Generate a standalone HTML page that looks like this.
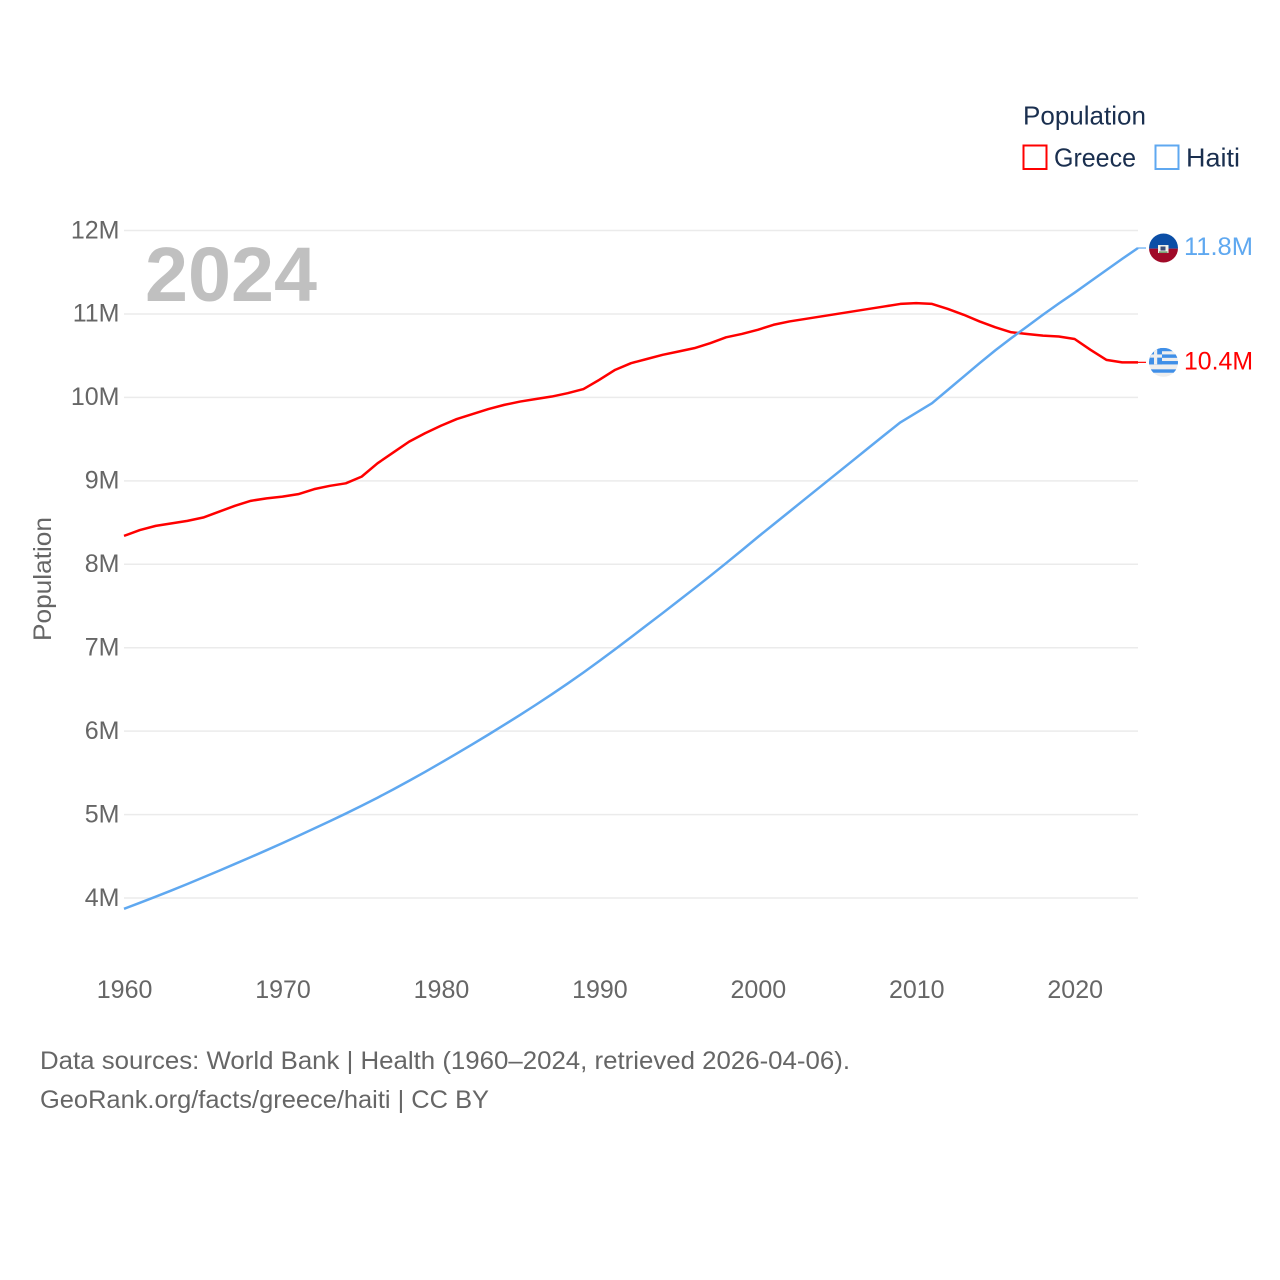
<!DOCTYPE html>
<html lang="en">
<head>
<meta charset="utf-8">
<title>Population: Greece and Haiti</title>
<style>
html,body{margin:0;padding:0;background:#fff;}
svg{display:block;font-family:"Liberation Sans",Arial,sans-serif;}
</style>
</head>
<body>
<svg id="chart" xmlns="http://www.w3.org/2000/svg" width="1280" height="1280" viewBox="0 0 1280 1280">
  <rect x="0" y="0" width="1280" height="1280" fill="#ffffff"/>
  <g id="grid"></g>
  <g id="yticks"></g>
  <g id="xticks"></g>
  <text x="145" y="301" font-size="77" font-weight="700" fill="#c0c0c0" textLength="172" lengthAdjust="spacingAndGlyphs">2024</text>
  <text transform="translate(51 641) rotate(-90)" font-size="25" fill="#666666" textLength="124" lengthAdjust="spacingAndGlyphs">Population</text>
  <g id="series"></g>
  <g id="ends"></g>

  <g>
    <text x="1023" y="124.5" font-size="26" fill="#1a2f4f" textLength="123" lengthAdjust="spacingAndGlyphs">Population</text>
    <g>
      <rect x="1023.5" y="145.5" width="23" height="23.5" fill="#ffffff" stroke="#ff0000" stroke-width="2"/>
      <text x="1054" y="166.5" font-size="26" fill="#1a2f4f" textLength="82" lengthAdjust="spacingAndGlyphs">Greece</text>
    </g>
    <g>
      <rect x="1155.5" y="145.5" width="23" height="23.5" fill="#ffffff" stroke="#5fa8f0" stroke-width="2"/>
      <text x="1186" y="166.5" font-size="26" fill="#1a2f4f" textLength="54" lengthAdjust="spacingAndGlyphs">Haiti</text>
    </g>
  </g>

  <g>
    <text x="40" y="1069" font-size="25" fill="#666666" textLength="810" lengthAdjust="spacingAndGlyphs">Data sources: World Bank | Health (1960–2024, retrieved 2026-04-06).</text>
    <text x="40" y="1108" font-size="25" fill="#666666" textLength="449" lengthAdjust="spacingAndGlyphs">GeoRank.org/facts/greece/haiti | CC BY</text>
  </g>
</svg>
<script>
const years = [1960,1961,1962,1963,1964,1965,1966,1967,1968,1969,1970,1971,1972,1973,1974,1975,1976,1977,1978,1979,1980,1981,1982,1983,1984,1985,1986,1987,1988,1989,1990,1991,1992,1993,1994,1995,1996,1997,1998,1999,2000,2001,2002,2003,2004,2005,2006,2007,2008,2009,2010,2011,2012,2013,2014,2015,2016,2017,2018,2019,2020,2021,2022,2023,2024];
const greeceValues = [8.34,8.41,8.46,8.49,8.52,8.56,8.63,8.70,8.76,8.79,8.81,8.84,8.90,8.94,8.97,9.05,9.21,9.34,9.47,9.57,9.66,9.74,9.80,9.86,9.91,9.95,9.98,10.01,10.05,10.10,10.21,10.33,10.41,10.46,10.51,10.55,10.59,10.65,10.72,10.76,10.81,10.87,10.91,10.94,10.97,11.00,11.03,11.06,11.09,11.12,11.13,11.12,11.06,10.99,10.91,10.84,10.78,10.76,10.74,10.73,10.70,10.57,10.45,10.42,10.42];
const haitiValues = [3.870,3.942,4.016,4.091,4.168,4.247,4.327,4.408,4.490,4.573,4.658,4.745,4.833,4.922,5.012,5.105,5.202,5.302,5.405,5.511,5.620,5.731,5.844,5.958,6.075,6.194,6.316,6.441,6.570,6.703,6.840,6.982,7.125,7.270,7.415,7.562,7.710,7.860,8.013,8.168,8.325,8.478,8.631,8.784,8.937,9.090,9.243,9.396,9.549,9.700,9.815,9.930,10.090,10.250,10.410,10.565,10.710,10.850,10.990,11.125,11.255,11.390,11.525,11.660,11.790];
const yTickValues = [4,5,6,7,8,9,10,11,12];
const xTickValues = [1960,1970,1980,1990,2000,2010,2020];

const NS = 'http://www.w3.org/2000/svg';
function xScale(year){ return 124 + (year - 1960) * (1138 - 124) / 64; }
function yScale(v){ return 898 - (v - 4) * (898 - 230.5) / 8; }
function make(tag, attrs, parent){
  const el = document.createElementNS(NS, tag);
  for (const k in attrs) el.setAttribute(k, attrs[k]);
  parent.appendChild(el);
  return el;
}

const grid = document.getElementById('grid');
const yticks = document.getElementById('yticks');
yTickValues.forEach(function(v){
  const line = make('line', {x1:124, x2:1138, y1:yScale(v), y2:yScale(v), stroke:'#ebebeb', 'stroke-width':1.5}, grid);
  
  
  const t = make('text', {x:119.5, y:yScale(v)+7.8, 'text-anchor':'end', 'font-size':25, fill:'#666666'}, yticks);
  
  
  t.textContent = v + 'M';
});

const xticks = document.getElementById('xticks');
xTickValues.forEach(function(year){
  const t = make('text', {x:xScale(year)+0.6, y:998, 'text-anchor':'middle', 'font-size':25, fill:'#666666'}, xticks);
  
  
  t.textContent = year;
});

const seriesGroup = document.getElementById('series');
function linePoints(vals){
  return vals.map(function(v, i){ return xScale(years[i]).toFixed(2) + ',' + yScale(v).toFixed(2); }).join(' ');
}
const greeceLine = make('polyline', {points:linePoints(greeceValues), fill:'none', stroke:'#ff0000', 'stroke-width':2.5, 'stroke-linejoin':'round'}, seriesGroup);


const haitiLine = make('polyline', {points:linePoints(haitiValues), fill:'none', stroke:'#5fa8f0', 'stroke-width':2.5, 'stroke-linejoin':'round'}, seriesGroup);



const ends = document.getElementById('ends');
const defs = make('defs', {}, ends);
const lastYear = years[years.length - 1];
const cx = 1163.5, r = 14.5;

/* Haiti end marker */
const hY = yScale(haitiValues[haitiValues.length - 1]);
const hClip = make('clipPath', {id:'clip-haiti'}, defs);
make('circle', {cx:cx, cy:hY, r:r}, hClip);
const hLead = make('line', {x1:xScale(lastYear), x2:1146, y1:hY, y2:hY, stroke:'#5fa8f0', 'stroke-width':1.2}, ends);


const hFlag = make('g', {'clip-path':'url(#clip-haiti)'}, ends);


make('rect', {x:cx-r, y:hY-r, width:2*r, height:r+0.6, fill:'#0b4ea6'}, hFlag);
make('rect', {x:cx-r, y:hY+0.6, width:2*r, height:r, fill:'#a00a28'}, hFlag);
make('rect', {x:cx-5.5, y:hY-3, width:10.5, height:8, fill:'#f2f2ea'}, hFlag);
make('rect', {x:cx-3, y:hY-1.5, width:5, height:4, fill:'#3f4f78'}, hFlag);
make('rect', {x:cx-4.5, y:hY+3.4, width:8.5, height:1.4, fill:'#5f8f5a'}, hFlag);
const hText = make('text', {x:1184, y:hY+7, 'font-size':25, fill:'#5fa8f0', textLength:69, lengthAdjust:'spacingAndGlyphs'}, ends);


hText.textContent = haitiValues[haitiValues.length - 1].toFixed(1) + 'M';

/* Greece end marker */
const gY = yScale(greeceValues[greeceValues.length - 1]);
const gClip = make('clipPath', {id:'clip-greece'}, defs);
make('circle', {cx:cx, cy:gY, r:r}, gClip);
const gLead = make('line', {x1:xScale(lastYear), x2:1146, y1:gY, y2:gY, stroke:'#ff0000', 'stroke-width':1.2}, ends);


const gFlag = make('g', {'clip-path':'url(#clip-greece)'}, ends);


make('rect', {x:cx-r, y:gY-r, width:2*r, height:2*r, fill:'#eeeeee'}, gFlag);
[0,6.6,13.2,21.5].forEach(function(off){
  make('rect', {x:cx-r, y:gY-r+off, width:2*r, height:3.4, fill:'#3f8fe8'}, gFlag);
});
make('rect', {x:cx-r, y:gY-r, width:13, height:16.5, fill:'#3f8fe8'}, gFlag);
make('rect', {x:cx-r, y:gY-r+6.6, width:13, height:3.2, fill:'#eeeeee'}, gFlag);
make('rect', {x:cx-r+5, y:gY-r, width:3.2, height:16.5, fill:'#eeeeee'}, gFlag);
const gText = make('text', {x:1184, y:gY+7, 'font-size':25, fill:'#ff0000', textLength:69, lengthAdjust:'spacingAndGlyphs'}, ends);


gText.textContent = greeceValues[greeceValues.length - 1].toFixed(1) + 'M';
</script>
</body>
</html>
